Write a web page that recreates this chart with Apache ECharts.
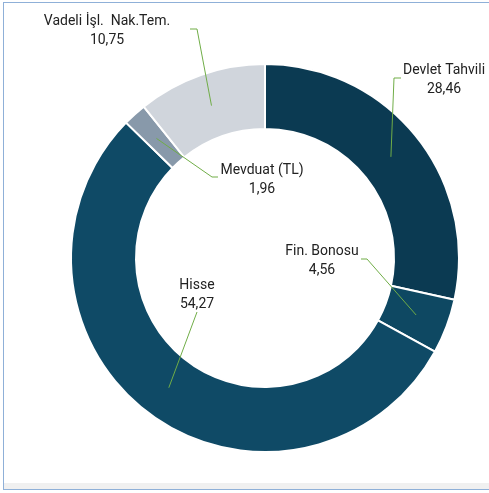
<!DOCTYPE html>
<html>
<head>
<meta charset="utf-8">
<script src="https://cdn.jsdelivr.net/npm/echarts@6/dist/echarts.min.js"></script>
<style>
  html, body { margin: 0; padding: 0; background: #fff; }
  #frame {
    position: absolute; left: 3px; top: 2px; width: 490px; height: 486px;
    border-left: 1px solid #8fb0d8; border-top: 1px solid #8fb0d8; border-bottom: 1px solid #8fb0d8;
    overflow: hidden;
  }
  #strip { position: absolute; left: 0; right: 0; bottom: 0; height: 6px; background: #f0f0f0; }
  #chart { position: absolute; left: -4px; top: -3px; width: 489px; height: 493px; }
</style>
</head>
<body>
<div id="frame">
  <div id="chart"></div>
  <div id="strip"></div>
</div>
<script>
// Kategoriler ve değerler
const categories = ['Devlet Tahvili', 'Fin. Bonosu', 'Hisse', 'Mevduat (TL)', 'Vadeli İşl.  Nak.Tem.'];
const values = [28.46, 4.56, 54.27, 1.96, 10.75];
const colors = ['#0b3a52', '#0e4862', '#0f4a66', '#8899aa', '#d0d5dc'];

// Etiket yerleşimi (grafik pikselleri)
const center = [265, 258];
const radius = [129, 194];
const labelPos = [[444, 80], [322, 261], [197, 295], [262, 180], [107, 31]];
// kılavuz çizgisinin dirseği ve ucu
const guideBend = [[394, 78], [367, 259], [197, 312], [212, 177], [197, 29]];
const guideEnd = [[401, 78], [361, 259], [197, 312], [218, 177], [190, 29]];

const chart = echarts.init(document.getElementById('chart'), null, { renderer: 'canvas' });

const fmt = v => v.toFixed(2).replace('.', ',');

// dilimin orta noktası (halkanın ortasında), değerlerden hesaplanır
const total = values.reduce((a, b) => a + b, 0);
function sliceMid(i) {
  let before = 0;
  for (let k = 0; k < i; k++) before += values[k];
  const ang = (before + values[i] / 2) / total * Math.PI * 2;
  const r = (radius[0] + radius[1]) / 2;
  return [center[0] + r * Math.sin(ang), center[1] - r * Math.cos(ang)];
}

// kılavuz çizgileri dilimlerin üstünde çizilsin
const guides = values.map((v, i) => ({
  type: 'polyline',
  z: 100,
  silent: true,
  shape: { points: [sliceMid(i), guideBend[i], guideEnd[i]] },
  style: { stroke: '#70ad47', lineWidth: 1, fill: null }
}));

chart.setOption({
  animation: false,
  graphic: guides,
  series: [{
    type: 'pie',
    center: center,
    radius: radius,
    startAngle: 90,
    clockwise: true,
    avoidLabelOverlap: false,
    itemStyle: { borderColor: '#fff', borderWidth: 2 },
    label: {
      show: true,
      position: 'outside',
      formatter: p => p.name + '\n' + fmt(p.value),
      fontFamily: 'Roboto',
      fontSize: 14,
      lineHeight: 19,
      color: '#222',
      align: 'center'
    },
    labelLine: { show: false },
    labelLayout: p => ({
      x: labelPos[p.dataIndex][0],
      y: labelPos[p.dataIndex][1],
      align: 'center',
      verticalAlign: 'middle'
    }),
    data: categories.map((c, i) => ({
      name: c,
      value: values[i],
      itemStyle: { color: colors[i] }
    }))
  }]
});
</script>
</body>
</html>
